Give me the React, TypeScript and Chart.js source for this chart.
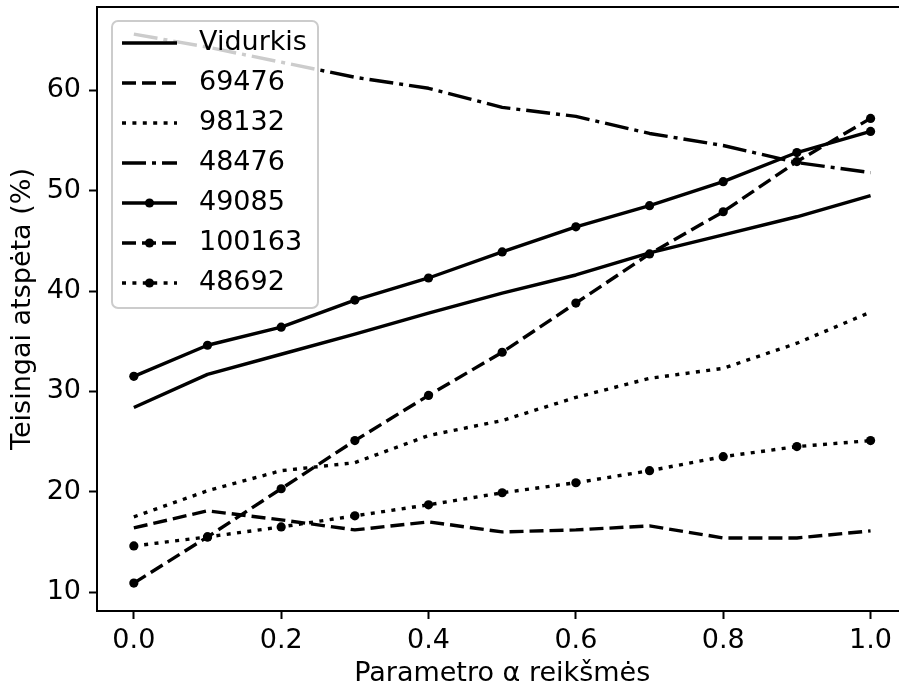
import React, { useEffect, useRef } from 'react';
import { Chart, registerables } from 'chart.js';

Chart.register(...registerables);

// ---- data ----
const alphaValues = [0.0, 0.1, 0.2, 0.3, 0.4, 0.5, 0.6, 0.7, 0.8, 0.9, 1.0];
const xTickValues = [0.0, 0.2, 0.4, 0.6, 0.8, 1.0];
const yTickValues = [10, 20, 30, 40, 50, 60];

const seriesLabels = ['Vidurkis', '69476', '98132', '48476', '49085', '100163', '48692'];
const vidurkis = [28.4, 31.7, 33.7, 35.7, 37.8, 39.8, 41.6, 43.8, 45.6, 47.4, 49.5];
const s69476 = [16.4, 18.1, 17.2, 16.2, 17.0, 16.0, 16.2, 16.6, 15.4, 15.4, 16.1];
const s98132 = [17.5, 20.1, 22.1, 22.9, 25.6, 27.1, 29.4, 31.3, 32.3, 34.8, 37.9];
const s48476 = [65.6, 64.3, 62.8, 61.3, 60.2, 58.3, 57.4, 55.7, 54.5, 52.8, 51.8];
const s49085 = [31.5, 34.6, 36.4, 39.1, 41.3, 43.9, 46.4, 48.5, 50.9, 53.8, 55.9];
const s100163 = [10.9, 15.5, 20.3, 25.1, 29.6, 33.9, 38.8, 43.7, 47.9, 52.9, 57.2];
const s48692 = [14.6, 15.5, 16.5, 17.6, 18.7, 19.9, 20.9, 22.1, 23.5, 24.5, 25.1];

const xTitle = 'Parametro α reikšmės';
const yTitle = 'Teisingai atspėta (%)';

// ---- styles ----
const FONT = "'DejaVu Sans', sans-serif";
const FS = 27;
const LW = 3.4;
const DASHED = [14, 6];
const DOTTED = [4, 6.4];
const DASHDOT = [24, 6, 4, 6];
const PR = 4.6;

const seriesValues = [vidurkis, s69476, s98132, s48476, s49085, s100163, s48692];
const seriesDash = [[], DASHED, DOTTED, DASHDOT, [], DASHED, DOTTED];
const seriesMarker = [0, 0, 0, 0, PR, PR, PR];

const legendPlugin = {
  id: 'mplFrameLegend',
  afterDraw(chart: any) {
    const { ctx, chartArea: a } = chart;
    ctx.save();
    // frame
    ctx.strokeStyle = '#000';
    ctx.lineWidth = 2;
    ctx.setLineDash([]);
    ctx.strokeRect(a.left, a.top, a.right - a.left, a.bottom - a.top);

    // legend box
    const bx = 112, by = 21, bw = 206, bh = 287, r = 6;
    ctx.beginPath();
    ctx.moveTo(bx + r, by);
    ctx.lineTo(bx + bw - r, by);
    ctx.arcTo(bx + bw, by, bx + bw, by + r, r);
    ctx.lineTo(bx + bw, by + bh - r);
    ctx.arcTo(bx + bw, by + bh, bx + bw - r, by + bh, r);
    ctx.lineTo(bx + r, by + bh);
    ctx.arcTo(bx, by + bh, bx, by + bh - r, r);
    ctx.lineTo(bx, by + r);
    ctx.arcTo(bx, by, bx + r, by, r);
    ctx.closePath();
    ctx.fillStyle = 'rgba(255,255,255,0.8)';
    ctx.fill();
    ctx.strokeStyle = '#cccccc';
    ctx.lineWidth = 2;
    ctx.stroke();

    const x0 = 122, x1 = 177, tx = 199;
    chart.data.datasets.forEach((ds: any, i: number) => {
      const y = 43 + i * 40;
      ctx.strokeStyle = '#000';
      ctx.lineWidth = LW;
      ctx.lineCap = 'butt';
      ctx.setLineDash(ds.borderDash || []);
      ctx.beginPath();
      ctx.moveTo(x0, y);
      ctx.lineTo(x1, y);
      ctx.stroke();
      ctx.setLineDash([]);
      if (ds.pointRadius > 0) {
        ctx.fillStyle = '#000';
        ctx.beginPath();
        ctx.arc((x0 + x1) / 2, y, ds.pointRadius, 0, Math.PI * 2);
        ctx.fill();
      }
      ctx.fillStyle = '#000';
      ctx.font = `${FS}px ${FONT}`;
      ctx.textAlign = 'left';
      ctx.textBaseline = 'middle';
      ctx.fillText(ds.label, tx, y);
    });
    ctx.restore();
  },
};

export default function App() {
  const ref = useRef<HTMLCanvasElement | null>(null);

  useEffect(() => {
    if (!ref.current) return;
    const datasets = seriesLabels.map((label, i) => ({
      label,
      data: alphaValues.map((x, j) => ({ x, y: seriesValues[i][j] })),
      borderColor: '#000',
      backgroundColor: '#000',
      borderWidth: LW,
      borderDash: seriesDash[i],
      borderCapStyle: 'butt' as const,
      borderJoinStyle: 'round' as const,
      pointRadius: seriesMarker[i],
      pointBorderWidth: 0,
      pointBackgroundColor: '#000',
      pointHoverRadius: seriesMarker[i],
      fill: false,
      tension: 0,
    }));

    const chart = new Chart(ref.current, {
      type: 'line',
      data: { datasets },
      plugins: [legendPlugin],
      options: {
        responsive: false,
        animation: false,
        devicePixelRatio: 1,
        layout: { padding: { top: 7, right: 0, left: 0, bottom: 0 } },
        plugins: { legend: { display: false }, tooltip: { enabled: false } },
        scales: {
          x: {
            type: 'linear',
            min: -0.05,
            max: 1.05,
            afterBuildTicks: (s: any) => {
              s.ticks = xTickValues.map((v) => ({ value: v }));
            },
            afterFit: (s: any) => {
              s.height = 77;
              s.paddingLeft = 0;
              s.paddingRight = 0;
            },
            ticks: {
              color: '#000',
              font: { family: FONT, size: FS },
              padding: 6,
              maxRotation: 0,
              autoSkip: false,
              callback: (v: any) => Number(v).toFixed(1),
            },
            grid: {
              display: true,
              drawOnChartArea: false,
              drawTicks: true,
              tickLength: 8,
              tickWidth: 2,
              tickColor: '#000',
            },
            border: { display: false },
            title: {
              display: true,
              text: xTitle,
              color: '#000',
              font: { family: FONT, size: FS },
              padding: { top: 0, bottom: -2 },
            },
          },
          y: {
            type: 'linear',
            min: 8.12,
            max: 68.3,
            afterBuildTicks: (s: any) => {
              s.ticks = yTickValues.map((v) => ({ value: v }));
            },
            afterFit: (s: any) => {
              s.width = 97;
              s.paddingTop = 0;
              s.paddingBottom = 0;
            },
            ticks: {
              color: '#000',
              font: { family: FONT, size: FS },
              padding: 8,
              autoSkip: false,
              callback: (v: any) => String(v),
            },
            grid: {
              display: true,
              drawOnChartArea: false,
              drawTicks: true,
              tickLength: 8,
              tickWidth: 2,
              tickColor: '#000',
            },
            border: { display: false },
            title: {
              display: true,
              text: yTitle,
              color: '#000',
              font: { family: FONT, size: FS },
              padding: { top: 7, bottom: 0 },
            },
          },
        },
      },
    });
    return () => chart.destroy();
  }, []);

  return (
    <div
      style={{
        position: 'fixed',
        left: 0,
        top: 0,
        width: 899,
        height: 688,
        overflow: 'hidden',
        background: '#fff',
      }}
    >
      <canvas ref={ref} width={912} height={688} style={{ display: 'block', width: 912, height: 688 }} />
    </div>
  );
}
